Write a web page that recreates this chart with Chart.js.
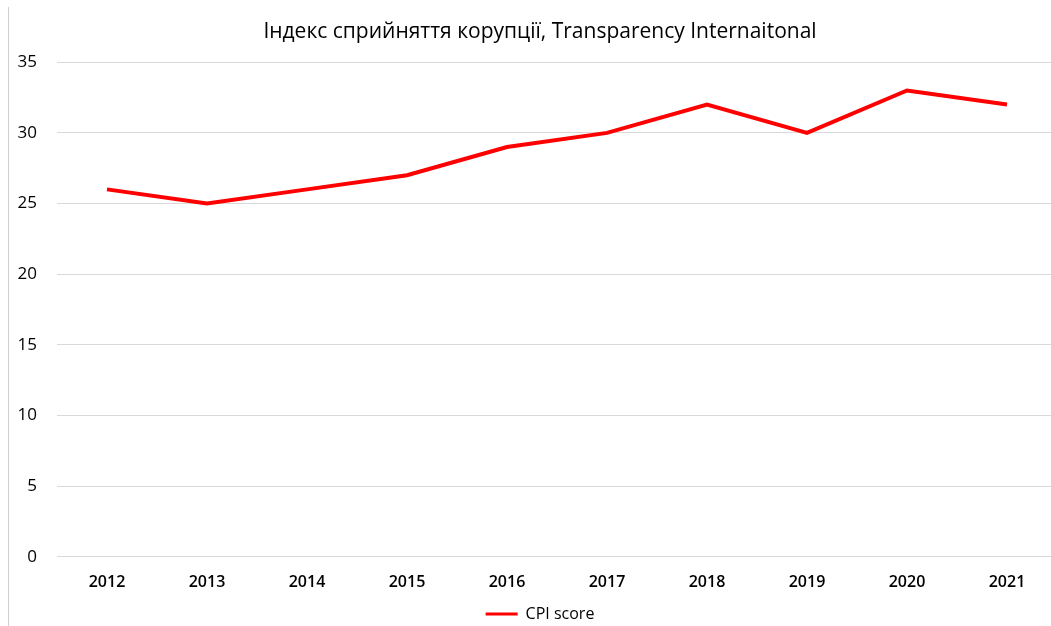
<!DOCTYPE html>
<html>
<head>
<meta charset="utf-8">
<script src="https://cdn.jsdelivr.net/npm/chart.js@4"></script>
<style>
  html, body { margin: 0; padding: 0; background: #fff; overflow: hidden; }
  #wrap { position: absolute; left: 0; top: 0; width: 1080px; height: 636px; }
  #edge { position: absolute; left: 8px; top: 7px; bottom: 0; border-left: 1px solid #cfcfcf; }
</style>
</head>
<body>
<div id="edge"></div>
<div id="wrap"><canvas id="cpiChart"></canvas></div>
<script>
const YEARS = ["2012", "2013", "2014", "2015", "2016", "2017", "2018", "2019", "2020", "2021"];
const CPI_SCORE = [26, 25, 26, 27, 29, 30, 32, 30, 33, 32];
const Y_MIN = 0;
const Y_MAX = 35;
const Y_STEP = 5;

const FONT = "'Open Sans', 'Noto Sans', sans-serif";

new Chart(document.getElementById("cpiChart"), {
  type: "line",
  data: {
    labels: YEARS,
    datasets: [
      {
        label: "CPI score",
        data: CPI_SCORE,
        borderColor: "#ff0000",
        backgroundColor: "#ff0000",
        borderWidth: 4,
        pointRadius: 0,
        tension: 0,
      },
    ],
  },
  options: {
    responsive: true,
    maintainAspectRatio: false,
    animation: false,
    layout: { padding: { left: 0, right: 0, top: 8, bottom: 4 } },
    plugins: {
      title: {
        display: true,
        text: "Індекс сприйняття корупції, Transparency Internaitonal",
        color: "#000",
        font: { family: FONT, size: 21, weight: "normal" },
        padding: { top: 11, bottom: 18 },
      },
      legend: {
        position: "bottom",
        labels: {
          color: "#000",
          font: { family: FONT, size: 16 },
          boxWidth: 32,
          boxHeight: 3,
          padding: 6,
          // plain filled bar, no outline, like the original legend key
          generateLabels(chart) {
            return Chart.defaults.plugins.legend.labels
              .generateLabels(chart)
              .map(l => ({ ...l, lineWidth: 0 }));
          },
        },
      },
      tooltip: { enabled: false },
    },
    scales: {
      x: {
        offset: true,
        grid: { display: false },
        border: { display: false },
        ticks: {
          color: "#000",
          font: { family: FONT, size: 16, weight: "600" },
          padding: 8,
          maxRotation: 0,
        },
      },
      y: {
        min: Y_MIN,
        max: Y_MAX,
        grid: { color: "#d9d9d9", lineWidth: 1, drawTicks: false },
        border: { display: false },
        ticks: {
          stepSize: Y_STEP,
          color: "#000",
          font: { family: FONT, size: 17 },
          padding: 20,
        },
        afterFit(scale) {
          scale.width = 57;
        },
      },
      // empty right-hand gutter so the title and legend centre like the original
      y2: {
        position: "right",
        min: Y_MIN,
        max: Y_MAX,
        grid: { display: false },
        border: { display: false },
        ticks: { display: false },
        afterFit(scale) {
          scale.width = 23;
        },
      },
    },
  },
});
</script>
</body>
</html>
